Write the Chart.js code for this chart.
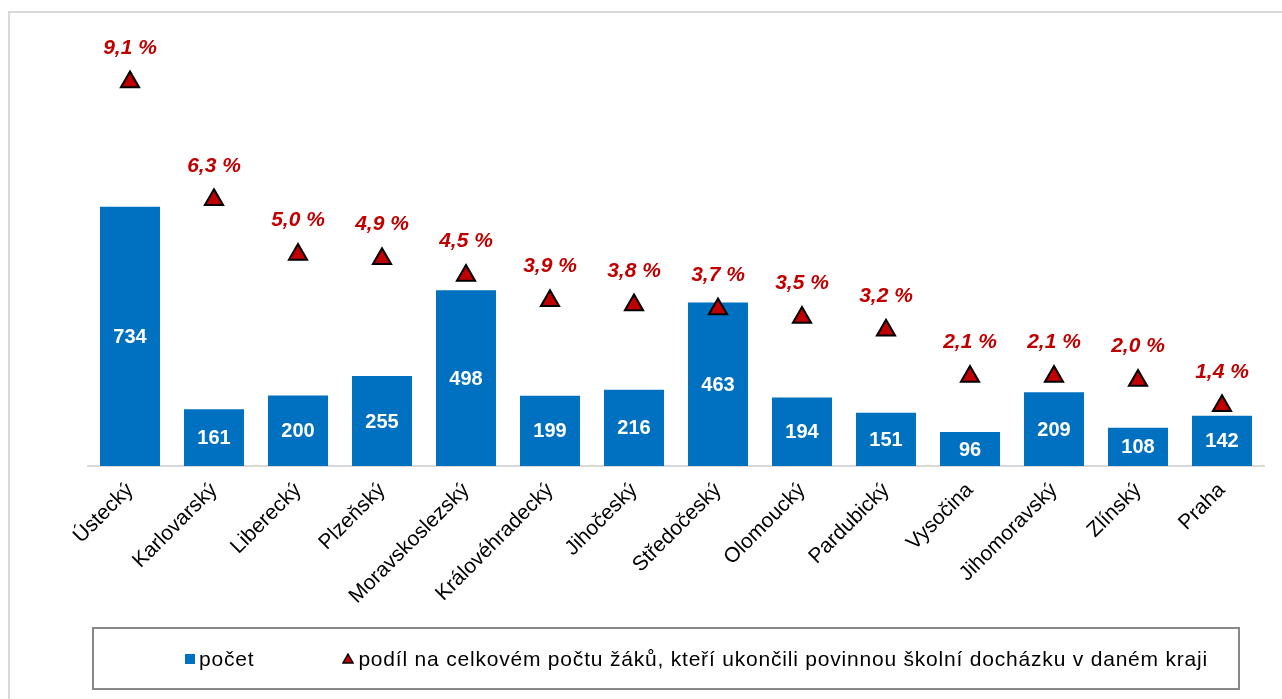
<!DOCTYPE html>
<html>
<head>
<meta charset="utf-8">
<script src="https://cdn.jsdelivr.net/npm/chart.js@4/dist/chart.umd.min.js"></script>
<style>
  html, body { margin: 0; padding: 0; background: #fff; overflow: hidden; }
  #ramecek { position: absolute; left: 8px; top: 11px; width: 1400px; height: 800px; border: 2px solid #d9d9d9; }
  #obal { position: absolute; left: 0; top: 0; width: 1282px; height: 699px; }
  #legenda {
    position: absolute; left: 92px; top: 627px; width: 1053px; height: 59px;
    padding-left: 91px;
    border: 2px solid #888; display: flex; align-items: center; justify-content: flex-start;
    font-family: "Liberation Sans", Arial, sans-serif; font-size: 21px; color: #000;
    letter-spacing: 0.8px; white-space: nowrap;
  }
  #legenda .polozka { display: flex; align-items: center; margin-right: 88px; }
  #legenda .znacka { margin-right: 4px; }
</style>
</head>
<body>
<div id="ramecek"></div>
<div id="obal"><canvas id="graf" width="1282" height="699"></canvas></div>
<div id="legenda"></div>
<script>
// kraje a hodnoty
var kraje = ['Ústecký', 'Karlovarský', 'Liberecký', 'Plzeňský', 'Moravskoslezský', 'Královéhradecký', 'Jihočeský', 'Středočeský', 'Olomoucký', 'Pardubický', 'Vysočina', 'Jihomoravský', 'Zlínský', 'Praha'];
var pocet = [734, 161, 200, 255, 498, 199, 216, 463, 194, 151, 96, 209, 108, 142];
var podil = [9.1, 6.3, 5.0, 4.9, 4.5, 3.9, 3.8, 3.7, 3.5, 3.2, 2.1, 2.1, 2.0, 1.4];

var modra = '#0070C0';
var cervena = '#C00000';
var pismo = '"Liberation Sans", Arial, sans-serif';

// popisky hodnot (bez pluginu datalabels)
var popisky = {
  id: 'popisky',
  afterDatasetsDraw: function (chart) {
    var ctx = chart.ctx;
    ctx.save();
    ctx.textAlign = 'center';
    ctx.textBaseline = 'middle';
    chart.getDatasetMeta(1).data.forEach(function (el, i) {
      ctx.font = 'bold 20px ' + pismo;
      ctx.fillStyle = '#fff';
      ctx.fillText(pocet[i], el.x, (el.y + el.base) / 2 + 1);
    });
    chart.getDatasetMeta(0).data.forEach(function (el, i) {
      ctx.font = 'italic bold 21px ' + pismo;
      ctx.fillStyle = cervena;
      ctx.fillText(podil[i].toFixed(1).replace('.', ',') + ' %', el.x, el.y - 34);
    });
    ctx.restore();
  }
};

var graf = new Chart(document.getElementById('graf').getContext('2d'), {
  data: {
    labels: kraje,
    datasets: [{
      type: 'line',
      label: 'podíl na celkovém počtu žáků, kteří ukončili povinnou školní docházku v daném kraji',
      data: podil,
      yAxisID: 'y2',
      showLine: false,
      pointStyle: 'triangle',
      pointRadius: 10.5,
      pointHoverRadius: 10.5,
      pointBackgroundColor: cervena,
      pointBorderColor: '#000',
      pointBorderWidth: 2,
      order: 0
    }, {
      type: 'bar',
      label: 'počet',
      data: pocet,
      yAxisID: 'y',
      backgroundColor: modra,
      categoryPercentage: 1,
      barPercentage: 0.714,
      order: 1
    }]
  },
  options: {
    responsive: false,
    animation: false,
    events: [],
    layout: { padding: { left: 88, right: 18, top: 42, bottom: 0 } },
    plugins: { legend: { display: false }, tooltip: { enabled: false } },
    scales: {
      x: {
        grid: { display: false },
        border: { color: '#d9d9d9', width: 2 },
        ticks: {
          maxRotation: 45, minRotation: 45, autoSkip: false, padding: 4,
          color: '#000', font: { family: pismo, size: 21 }
        },
        afterFit: function (s) { s.height = 233; }
      },
      y: { display: false, min: 0, max: 1201 },
      y2: { display: false, min: -0.03, max: 10.05 }
    }
  },
  plugins: [popisky]
});

// legenda jako HTML
var leg = document.getElementById('legenda');
graf.data.datasets.slice().reverse().forEach(function (ds) {
  var p = document.createElement('div');
  p.className = 'polozka';
  var z = ds.type === 'bar'
    ? '<svg class="znacka" width="10" height="10"><rect width="10" height="10" fill="' + modra + '"/></svg>'
    : '<svg class="znacka" width="12" height="11"><polygon points="6,1 11,10 1,10" fill="' + cervena + '" stroke="#000" stroke-width="1.4"/></svg>';
  p.innerHTML = z + '<span>' + ds.label + '</span>';
  leg.appendChild(p);
});
</script>
</body>
</html>
